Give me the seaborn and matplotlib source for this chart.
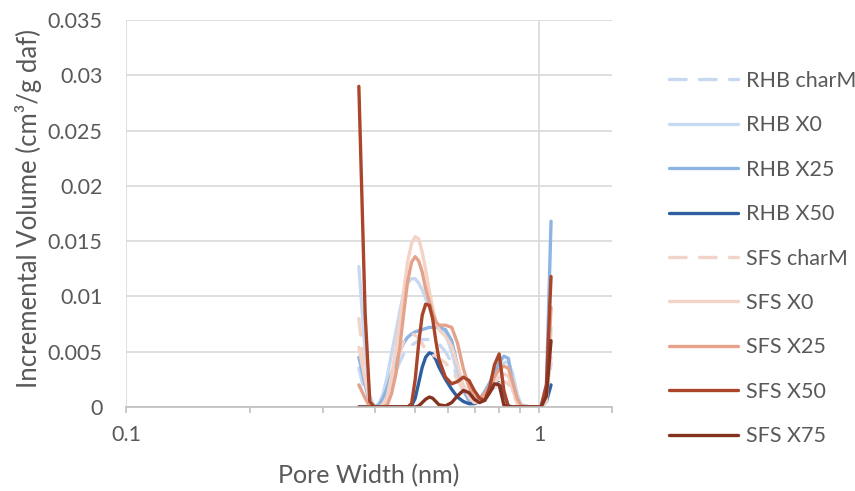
import numpy as np
import pandas as pd
import matplotlib
matplotlib.use('Agg')
import matplotlib.pyplot as plt
from matplotlib.ticker import FixedLocator, NullFormatter
from matplotlib.textpath import TextPath
from matplotlib.font_manager import FontProperties
import seaborn as sns

# pore width grid (nm)
pore_width = [0.366, 0.379, 0.389, 0.399, 0.409, 0.419, 0.429, 0.439, 0.450, 0.460,
              0.470, 0.480, 0.491, 0.501, 0.511, 0.521, 0.531, 0.542, 0.552, 0.562,
              0.572, 0.593, 0.614, 0.634, 0.655, 0.676, 0.696, 0.717, 0.738, 0.759,
              0.779, 0.800, 0.821, 0.842, 0.863, 0.884, 0.904, 0.957, 1.010, 1.041, 1.068]

rhb_charm = [0.0035, 0.0012, 0.0002, 0, 0, 0.0004, 0.0012, 0.0022, 0.0032, 0.0041,
             0.0048, 0.0053, 0.0056, 0.0058, 0.0060, 0.0061, 0.0061, 0.0061, 0.0060, 0.0059,
             0.0057, 0.0050, 0.0040, 0.0027, 0.0014, 0.0006, 0.0004, 0.0006, 0.0010, 0.0016,
             0.0022, 0.0027, 0.0030, 0.0028, 0.0016, 0.0005, 0, 0, 0, 0.0005, 0.0040]
rhb_x0 = [0.0127, 0.0050, 0.0010, 0, 0.0002, 0.0012, 0.0028, 0.0048, 0.0068, 0.0087,
          0.0103, 0.0112, 0.0116, 0.0116, 0.0112, 0.0106, 0.0098, 0.0090, 0.0083, 0.0077,
          0.0072, 0.0066, 0.0050, 0.0030, 0.0014, 0.0006, 0.0004, 0.0006, 0.0012, 0.0020,
          0.0028, 0.0035, 0.0040, 0.0041, 0.0030, 0.0012, 0.0002, 0, 0, 0.0010, 0.0072]
rhb_x25 = [0.0045, 0.0020, 0.0004, 0, 0.0002, 0.0008, 0.0018, 0.0030, 0.0041, 0.0051,
           0.0058, 0.0063, 0.0066, 0.0068, 0.0069, 0.0070, 0.0071, 0.0072, 0.0072, 0.0072,
           0.0072, 0.0070, 0.0060, 0.0038, 0.0016, 0.0006, 0.0004, 0.0007, 0.0014, 0.0022,
           0.0031, 0.0040, 0.0046, 0.0044, 0.0020, 0.0004, 0, 0, 0, 0.0020, 0.0168]
rhb_x50 = [0, 0, 0, 0, 0, 0, 0, 0, 0, 0,
           0, 0, 0.0001, 0.0008, 0.0022, 0.0036, 0.0045, 0.0049, 0.0048, 0.0043,
           0.0036, 0.0025, 0.0016, 0.0009, 0.0005, 0.0003, 0.0003, 0.0005, 0.0009, 0.0014,
           0.0019, 0.0022, 0.0012, 0.0001, 0, 0, 0, 0, 0, 0.0005, 0.0020]
sfs_charm = [0.0080, 0.0030, 0.0006, 0, 0, 0.0002, 0.0010, 0.0022, 0.0036, 0.0050,
             0.0060, 0.0065, 0.0066, 0.0065, 0.0062, 0.0057, 0.0052, 0.0049, 0.0047, 0.0046,
             0.0044, 0.0040, 0.0033, 0.0025, 0.0015, 0.0008, 0.0005, 0.0005, 0.0008, 0.0012,
             0.0017, 0.0021, 0.0023, 0.0021, 0.0012, 0.0004, 0, 0, 0, 0.0005, 0.0070]
sfs_x0 = [0.0054, 0.0025, 0.0005, 0, 0, 0.0001, 0.0010, 0.0028, 0.0052, 0.0078,
          0.0105, 0.0131, 0.0148, 0.0154, 0.0152, 0.0140, 0.0124, 0.0105, 0.0090, 0.0078,
          0.0070, 0.0064, 0.0055, 0.0038, 0.0020, 0.0009, 0.0004, 0.0005, 0.0010, 0.0016,
          0.0022, 0.0027, 0.0030, 0.0028, 0.0015, 0.0004, 0, 0, 0, 0.0010, 0.0045]
sfs_x25 = [0.0020, 0.0008, 0, 0, 0, 0, 0.0002, 0.0012, 0.0030, 0.0055,
           0.0085, 0.0113, 0.0131, 0.0136, 0.0132, 0.0122, 0.0107, 0.0095, 0.0085, 0.0077,
           0.0074, 0.0074, 0.0072, 0.0058, 0.0035, 0.0018, 0.0009, 0.0008, 0.0012, 0.0019,
           0.0027, 0.0034, 0.0037, 0.0035, 0.0022, 0.0008, 0.0001, 0, 0, 0.0010, 0.0090]
sfs_x50 = [0.0290, 0.0085, 0.0005, 0, 0, 0, 0, 0, 0, 0,
           0, 0, 0.0003, 0.0025, 0.0058, 0.0083, 0.0093, 0.0092, 0.0080, 0.0060,
           0.0043, 0.0027, 0.0021, 0.0023, 0.0027, 0.0024, 0.0015, 0.0008, 0.0006, 0.0018,
           0.0038, 0.0048, 0.0015, 0, 0, 0, 0, 0, 0, 0.0020, 0.0118]
sfs_x75 = [0, 0, 0, 0, 0, 0, 0, 0, 0, 0,
           0, 0, 0, 0, 0.0001, 0.0004, 0.0007, 0.0009, 0.0008, 0.0005,
           0.0002, 0.0001, 0.0004, 0.0010, 0.0015, 0.0013, 0.0007, 0.0004, 0.0006, 0.0013,
           0.0021, 0.0020, 0.0002, 0, 0, 0, 0, 0, 0, 0.0010, 0.0060]

series_names = ['RHB charM', 'RHB X0', 'RHB X25', 'RHB X50',
                'SFS charM', 'SFS X0', 'SFS X25', 'SFS X50', 'SFS X75']
series_values = [rhb_charm, rhb_x0, rhb_x25, rhb_x50,
                 sfs_charm, sfs_x0, sfs_x25, sfs_x50, sfs_x75]
colores = ['#c6d9f1', '#c6d9f1', '#8db4e2', '#2e5fa3',
           '#f2d3c9', '#f4d2c6', '#e5a28b', '#a9452a', '#853220']
dashed = [True, False, False, False, True, False, False, False, False]

sns.set_style('white')
familia = 'Lato'
plt.rcParams['font.family'] = [familia, 'DejaVu Sans']
cor_texto = '#595959'
fonte = FontProperties(family=familia)


def tamanho(texto, largura_px):
    # tamanho de fonte (pt) para que o texto ocupe largura_px a 100 dpi
    w = TextPath((0, 0), texto, size=10, prop=fonte).get_extents().width
    return 10 * largura_px * 72 / (100 * w)


fs_ticks = tamanho('0.035', 53)
fs_leg = tamanho('RHB charM', 106)
fs_xlab = tamanho('Pore Width (nm)', 178)
fs_ylab = tamanho('Incremental Volume (cm³/g daf)', 355)

fig = plt.figure(figsize=(8.55, 4.91), dpi=100)
ax = fig.add_axes([126 / 855, 1 - 407 / 491, 486 / 855, 387 / 491])

for nome, valores, cor, tracejado in zip(series_names, series_values, colores, dashed):
    estilo = (0, (5, 4)) if tracejado else '-'
    sns.lineplot(x=pore_width, y=valores, ax=ax, color=cor, label=nome,
                 linewidth=2.4, linestyle=estilo, solid_capstyle='round',
                 dash_capstyle='round', sort=False)

ax.set_xscale('log')
ax.set_xlim(0.1, 1.5)
ax.set_ylim(0, 0.035)

ax.xaxis.set_major_locator(FixedLocator([0.1, 1]))
ax.xaxis.set_minor_locator(FixedLocator([0.2, 0.3, 0.4, 0.5, 0.6, 0.7, 0.8, 0.9, 1.5]))
ax.xaxis.set_minor_formatter(NullFormatter())
ax.set_xticklabels(['0.1', '1'])
ax.set_yticks(np.arange(0, 0.0351, 0.005))
ax.set_yticklabels(['0', '0.005', '0.01', '0.015', '0.02', '0.025', '0.03', '0.035'])

ax.grid(True, which='major', axis='both', color='#d9d9d9', linewidth=1.2)
ax.set_axisbelow(True)
for lado in ['top', 'right', 'left']:
    ax.spines[lado].set_visible(False)
ax.spines['bottom'].set_color('#bfbfbf')
ax.spines['bottom'].set_linewidth(1.2)

ax.tick_params(axis='x', which='both', bottom=True, direction='out', length=4, width=1.2,
               color='#bfbfbf', labelsize=fs_ticks, labelcolor=cor_texto, pad=9)
ax.tick_params(axis='y', which='both', left=False, length=0, labelsize=fs_ticks,
               labelcolor=cor_texto, pad=17)

ax.set_xlabel('Pore Width (nm)', fontsize=fs_xlab, color=cor_texto, va='center')
ax.xaxis.set_label_coords(0.5, (407 - 476) / 387)
# o lado da linha de base do rótulo vertical fica à direita (~x = 42 px)
ax.set_ylabel('Incremental Volume (cm³/g daf)', fontsize=fs_ylab, color=cor_texto)
ax.yaxis.set_label_coords((42 - 126) / 486, 0.513)

# passo entre linhas da legenda: ~32.3 pt
esp = 32.3 / fs_leg - 0.95
leg = ax.legend(loc='center left', bbox_to_anchor=(669 / 855, 1 - 258.5 / 491),
                bbox_transform=fig.transFigure, frameon=False, fontsize=fs_leg,
                handlelength=49.7 / fs_leg, handletextpad=5.5 / fs_leg, labelspacing=esp,
                borderpad=0, borderaxespad=0)
for texto in leg.get_texts():
    texto.set_color(cor_texto)

fig.savefig('out.png', dpi=100)
